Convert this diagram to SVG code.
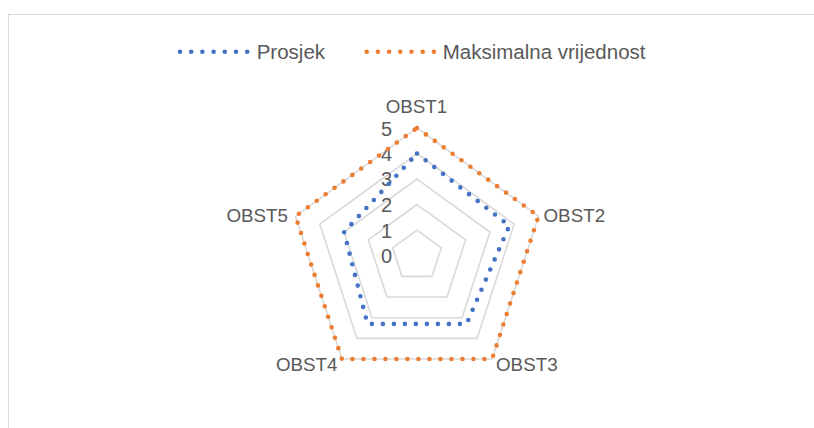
<svg xmlns="http://www.w3.org/2000/svg" width="814" height="428" viewBox="0 0 814 428">
  <style>
    .txt { font-family: "Liberation Sans", Arial, sans-serif; fill: #595959; }
    .cat { font-size: 18.8px; }
    .num { font-size: 20px; text-anchor: end; }
    .leg { font-size: 20.5px; }
    .grid { fill: none; stroke: #D9D9D9; stroke-width: 1.6; stroke-linejoin: miter; }
    .dots { fill: none; stroke-width: 4.6; stroke-linecap: round; stroke-linejoin: round; stroke-dasharray: 0 11; }
    .blue { stroke: #4472C4; }
    .orange { stroke: #ED7D31; }
  </style>
  <rect x="0" y="0" width="814" height="428" fill="#FFFFFF"/>
  <rect id="chart-border" x="8.5" y="14.5" width="900" height="500" fill="#FFFFFF" stroke="#D9D9D9" stroke-width="1"/>

  <g id="legend">
    <g id="legend-prosjek">
      <line class="dots blue" x1="180" y1="51.7" x2="247.3" y2="51.7" style="stroke-dasharray:0 11.2"/>
      <text class="txt leg" x="256.7" y="59.3">Prosjek</text>
    </g>
    <g id="legend-max">
      <line class="dots orange" x1="366.7" y1="51.7" x2="434" y2="51.7" style="stroke-dasharray:0 11.2"/>
      <text class="txt leg" x="442.7" y="59.3">Maksimalna vrijednost</text>
    </g>
  </g>

  <g id="gridlines">
    <polygon class="grid" points="417,230.15 441.30,247.80 432.02,276.37 401.98,276.37 392.70,247.80"/>
    <polygon class="grid" points="417,204.6 465.60,239.91 447.04,297.04 386.96,297.04 368.40,239.91"/>
    <polygon class="grid" points="417,179.05 489.90,232.01 462.05,317.71 371.95,317.71 344.10,232.01"/>
    <polygon class="grid" points="417,153.5 514.20,224.12 477.07,338.38 356.93,338.38 319.80,224.12"/>
    <polygon class="grid" points="417,127.95 538.50,216.22 492.09,359.05 341.91,359.05 295.50,216.22"/>
  </g>

  <g id="axis-values">
    <text class="txt num" x="392" y="263">0</text>
    <text class="txt num" x="392" y="237.5">1</text>
    <text class="txt num" x="392" y="212">2</text>
    <text class="txt num" x="392" y="186.4">3</text>
    <text class="txt num" x="392" y="160.9">4</text>
    <text class="txt num" x="392" y="135.8">5</text>
  </g>

  <g id="series">
    <g id="series-max">
      <polygon class="dots orange" points="417,127.95 538.50,216.22 492.09,359.05 341.91,359.05 295.50,216.22"/>
    </g>
    <g id="series-prosjek">
      <polygon class="dots blue" points="417,153.5 509.34,225.70 466.56,323.91 367.44,323.91 344.10,232.01"/>
    </g>
  </g>

  <g id="category-labels">
    <g id="OBST1"><text class="txt cat" x="416.5" y="112.7" text-anchor="middle">OBST1</text></g>
    <g id="OBST2"><text class="txt cat" x="543.5" y="222.3">OBST2</text></g>
    <g id="OBST3"><text class="txt cat" x="496" y="370.7">OBST3</text></g>
    <g id="OBST4"><text class="txt cat" x="337.5" y="370.7" text-anchor="end">OBST4</text></g>
    <g id="OBST5"><text class="txt cat" x="288" y="221.7" text-anchor="end">OBST5</text></g>
  </g>
</svg>
